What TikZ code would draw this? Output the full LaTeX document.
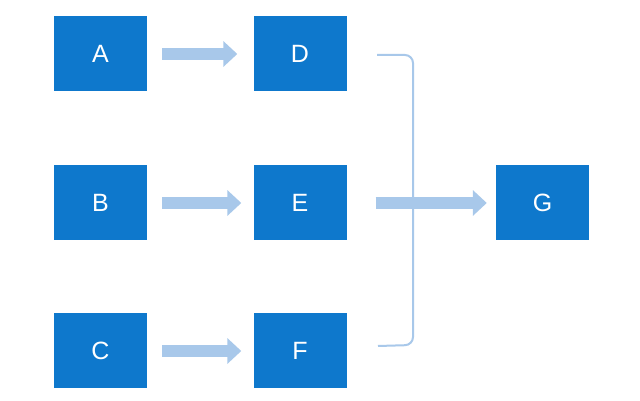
\documentclass[tikz,border=0pt]{standalone}
\usepackage{fontspec}
\setmainfont{Liberation Sans}
\usetikzlibrary{arrows.meta}
\definecolor{boxblue}{RGB}{14,120,204}
\definecolor{lightblue}{RGB}{168,200,234}
\tikzset{
  box/.style={fill=boxblue, draw=none, minimum width=93pt, minimum height=75pt, inner sep=0pt, text=white, font=\fontsize{25}{28}\selectfont},
  flow/.style={draw=lightblue, line width=12pt, -{Triangle[length=14pt,width=25pt]}},
  bracket/.style={draw=lightblue, line width=2pt, rounded corners=8pt}
}
\begin{document}
\begin{tikzpicture}[x=1pt,y=1pt]
\useasboundingbox (0,0) rectangle (640,401);
\fill[white] (0,0) rectangle (640,401);
\node[box] (A) at (100.5,347) {A};
\node[box] (D) at (300,347) {D};
\node[box] (B) at (100.5,198) {B};
\node[box] (E) at (300,198) {E};
\node[box] (C) at (100.5,50) {C};
\node[box] (F) at (300,50) {F};
\node[box] (G) at (542.5,198) {G};
\coordinate (btop) at (377,346);
\coordinate (bbot) at (378,55);
\draw[flow, shorten <=15pt, shorten >=16pt] (A) -- (D);
\draw[flow, shorten <=15pt, shorten >=12pt] (B) -- (E);
\draw[flow, shorten <=15pt, shorten >=12pt] (C) -- (F);
\draw[bracket] (btop) -- (413,346) -- (413,56) -- (bbot);
\draw[flow, shorten <=29pt, shorten >=9pt] (E) -- (G);
\end{tikzpicture}
\end{document}
